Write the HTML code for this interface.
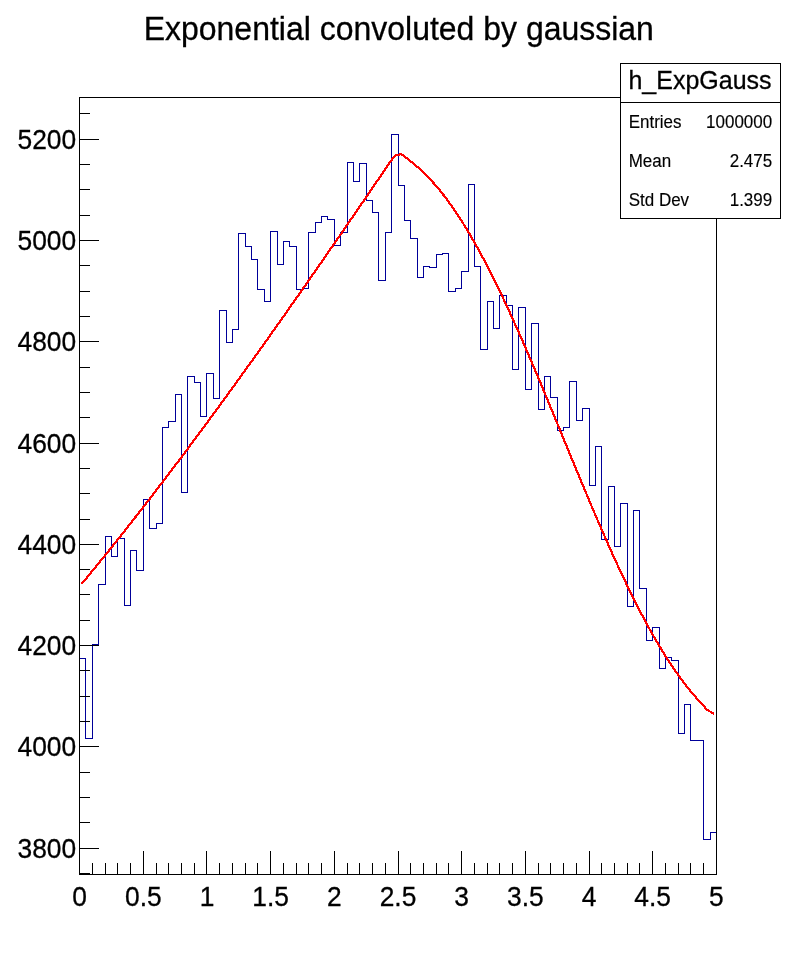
<!DOCTYPE html>
<html><head><meta charset="utf-8"><title>Exponential convoluted by gaussian</title>
<style>
html,body{margin:0;padding:0;background:#fff;}
svg{display:block;font-family:"Liberation Sans",Arial,Helvetica,sans-serif;fill:#000;}
text{stroke:#000;stroke-width:0.3px;}
text.s{stroke-width:0.15px;}
</style></head>
<body>
<svg width="796" height="972" viewBox="0 0 796 972">
<rect width="796" height="972" fill="#fff"/>
<text transform="translate(398.8 39.5) scale(0.95 1)" text-anchor="middle" font-size="33.68">Exponential convoluted by gaussian</text>
<path d="M79.5 874.5V658.5H85.5V738.5H92.5V644.5H98.5V584.5H105.5V536.5H111.5V556.5H117.5V538.5H124.5V605.5H130.5V550.5H136.5V570.5H143.5V499.5H149.5V528.5H156.5V523.5H162.5V427.5H168.5V421.5H175.5V394.5H181.5V492.5H187.5V376.5H194.5V382.5H200.5V416.5H206.5V373.5H213.5V398.5H219.5V310.5H226.5V342.5H232.5V329.5H238.5V233.5H245.5V246.5H251.5V259.5H257.5V289.5H264.5V301.5H270.5V231.5H277.5V264.5H283.5V241.5H289.5V246.5H296.5V289.5H302.5V288.5H308.5V232.5H315.5V222.5H321.5V216.5H327.5V219.5H334.5V245.5H340.5V232.5H347.5V162.5H353.5V181.5H359.5V163.5H366.5V200.5H372.5V212.5H378.5V280.5H385.5V232.5H391.5V134.5H398.5V185.5H404.5V220.5H410.5V238.5H417.5V277.5H423.5V266.5H429.5V267.5H436.5V254.5H442.5V253.5H448.5V291.5H455.5V288.5H461.5V271.5H468.5V184.5H474.5V266.5H480.5V349.5H487.5V301.5H493.5V328.5H499.5V295.5H506.5V305.5H512.5V369.5H518.5V307.5H525.5V389.5H531.5V323.5H538.5V409.5H544.5V376.5H550.5V397.5H557.5V430.5H563.5V427.5H569.5V381.5H576.5V420.5H582.5V408.5H589.5V485.5H595.5V446.5H601.5V539.5H608.5V486.5H614.5V546.5H620.5V503.5H627.5V606.5H633.5V510.5H639.5V588.5H646.5V640.5H652.5V627.5H659.5V668.5H665.5V657.5H671.5V660.5H678.5V733.5H684.5V704.5H690.5V740.5H697.5V740.5H703.5V839.5H710.5V832.5H716.5V874.5" fill="none" stroke="#000099" stroke-width="1" shape-rendering="crispEdges"/>
<path d="M81.8 583.8 L89.1 574.9 L95.5 567.1 L101.9 559.3 L108.3 551.4 L114.6 543.5 L121.0 535.5 L127.4 527.4 L133.7 519.3 L140.1 511.2 L146.5 503.0 L152.8 494.7 L159.2 486.4 L165.6 478.1 L171.9 469.7 L178.3 461.3 L184.7 452.8 L191.0 444.3 L197.4 435.7 L203.8 427.1 L210.1 418.5 L216.5 409.8 L222.9 401.1 L229.2 392.4 L235.6 383.6 L242.0 374.7 L248.3 365.9 L254.7 357.0 L261.1 348.1 L267.5 339.1 L273.8 330.1 L280.2 321.1 L286.6 312.1 L292.9 303.0 L299.3 293.9 L305.7 284.8 L312.0 275.7 L318.4 266.5 L324.8 257.3 L331.1 248.1 L337.5 238.9 L343.9 229.7 L350.2 220.4 L356.6 211.1 L363.0 201.8 L369.3 192.5 L375.7 183.2 L382.1 173.8 L388.4 164.5 L394.8 155.6 L401.2 154.1 L407.5 158.7 L413.9 164.0 L420.3 169.4 L426.7 175.6 L433.0 182.4 L439.4 189.8 L445.8 197.9 L452.1 206.7 L458.5 216.1 L464.9 226.2 L471.2 236.8 L477.6 248.0 L484.0 259.8 L490.3 272.1 L496.7 284.9 L503.1 298.1 L509.4 311.7 L515.8 325.8 L522.2 340.1 L528.5 354.8 L534.9 369.7 L541.3 384.8 L547.6 400.1 L554.0 415.5 L560.4 431.0 L566.7 446.4 L573.1 461.9 L579.5 477.3 L585.9 492.5 L592.2 507.6 L598.6 522.5 L605.0 537.1 L611.3 551.4 L617.7 565.4 L624.1 579.0 L630.4 592.2 L636.8 605.0 L643.2 617.3 L649.5 629.0 L655.9 640.2 L662.3 650.9 L668.6 661.0 L675.0 670.5 L681.4 679.4 L687.7 687.7 L694.1 695.4 L700.5 702.4 L706.8 709.6 L714.2 714.0" fill="none" stroke="#ff0000" stroke-width="2.2" stroke-linejoin="round" shape-rendering="crispEdges"/>
<rect x="79.5" y="97.5" width="637.0" height="777.0" fill="none" stroke="#000" stroke-width="1" shape-rendering="crispEdges"/>
<path d="M79.5 873.5h10M79.5 848.5h19M79.5 822.5h10M79.5 797.5h10M79.5 772.5h10M79.5 746.5h19M79.5 721.5h10M79.5 696.5h10M79.5 670.5h10M79.5 645.5h19M79.5 620.5h10M79.5 594.5h10M79.5 569.5h10M79.5 544.5h19M79.5 519.5h10M79.5 493.5h10M79.5 468.5h10M79.5 443.5h19M79.5 417.5h10M79.5 392.5h10M79.5 367.5h10M79.5 341.5h19M79.5 316.5h10M79.5 291.5h10M79.5 265.5h10M79.5 240.5h19M79.5 215.5h10M79.5 189.5h10M79.5 164.5h10M79.5 139.5h19M79.5 113.5h10M79.5 874.5v-24M92.5 874.5v-12M105.5 874.5v-12M117.5 874.5v-12M130.5 874.5v-12M143.5 874.5v-24M156.5 874.5v-12M168.5 874.5v-12M181.5 874.5v-12M194.5 874.5v-12M206.5 874.5v-24M219.5 874.5v-12M232.5 874.5v-12M245.5 874.5v-12M257.5 874.5v-12M270.5 874.5v-24M283.5 874.5v-12M296.5 874.5v-12M308.5 874.5v-12M321.5 874.5v-12M334.5 874.5v-24M347.5 874.5v-12M359.5 874.5v-12M372.5 874.5v-12M385.5 874.5v-12M398.5 874.5v-24M410.5 874.5v-12M423.5 874.5v-12M436.5 874.5v-12M448.5 874.5v-12M461.5 874.5v-24M474.5 874.5v-12M487.5 874.5v-12M499.5 874.5v-12M512.5 874.5v-12M525.5 874.5v-24M538.5 874.5v-12M550.5 874.5v-12M563.5 874.5v-12M576.5 874.5v-12M589.5 874.5v-24M601.5 874.5v-12M614.5 874.5v-12M627.5 874.5v-12M639.5 874.5v-12M652.5 874.5v-24M665.5 874.5v-12M678.5 874.5v-12M690.5 874.5v-12M703.5 874.5v-12M716.5 874.5v-24" stroke="#000" stroke-width="1" fill="none" shape-rendering="crispEdges"/>
<text transform="translate(76.2 858.2) scale(0.95 1)" text-anchor="end" font-size="27.79">3800</text><text transform="translate(76.2 756.2) scale(0.95 1)" text-anchor="end" font-size="27.79">4000</text><text transform="translate(76.2 655.2) scale(0.95 1)" text-anchor="end" font-size="27.79">4200</text><text transform="translate(76.2 554.2) scale(0.95 1)" text-anchor="end" font-size="27.79">4400</text><text transform="translate(76.2 453.2) scale(0.95 1)" text-anchor="end" font-size="27.79">4600</text><text transform="translate(76.2 351.2) scale(0.95 1)" text-anchor="end" font-size="27.79">4800</text><text transform="translate(76.2 250.2) scale(0.95 1)" text-anchor="end" font-size="27.79">5000</text><text transform="translate(76.2 149.2) scale(0.95 1)" text-anchor="end" font-size="27.79">5200</text>
<text transform="translate(79.6 906.2) scale(0.95 1)" text-anchor="middle" font-size="27.79">0</text><text transform="translate(143.3 906.2) scale(0.95 1)" text-anchor="middle" font-size="27.79">0.5</text><text transform="translate(207.0 906.2) scale(0.95 1)" text-anchor="middle" font-size="27.79">1</text><text transform="translate(270.6 906.2) scale(0.95 1)" text-anchor="middle" font-size="27.79">1.5</text><text transform="translate(334.3 906.2) scale(0.95 1)" text-anchor="middle" font-size="27.79">2</text><text transform="translate(398.0 906.2) scale(0.95 1)" text-anchor="middle" font-size="27.79">2.5</text><text transform="translate(461.7 906.2) scale(0.95 1)" text-anchor="middle" font-size="27.79">3</text><text transform="translate(525.4 906.2) scale(0.95 1)" text-anchor="middle" font-size="27.79">3.5</text><text transform="translate(589.0 906.2) scale(0.95 1)" text-anchor="middle" font-size="27.79">4</text><text transform="translate(652.7 906.2) scale(0.95 1)" text-anchor="middle" font-size="27.79">4.5</text><text transform="translate(716.4 906.2) scale(0.95 1)" text-anchor="middle" font-size="27.79">5</text>
<rect x="620.5" y="63.5" width="160" height="155" fill="#fff" stroke="#000" stroke-width="1" shape-rendering="crispEdges"/>
<path d="M620.5 102.5H780.5" stroke="#000" stroke-width="1" shape-rendering="crispEdges"/>
<text transform="translate(700.0 88.5) scale(0.95 1)" text-anchor="middle" font-size="26.32">h_ExpGauss</text>
<text transform="translate(628.7 128.0) scale(0.95 1)" class="s" font-size="17.89">Entries</text><text transform="translate(772.2 128.0) scale(0.95 1)" text-anchor="end" class="s" font-size="17.89">1000000</text><text transform="translate(628.7 166.9) scale(0.95 1)" class="s" font-size="17.89">Mean</text><text transform="translate(772.2 166.9) scale(0.95 1)" text-anchor="end" class="s" font-size="17.89">2.475</text><text transform="translate(628.7 205.9) scale(0.95 1)" class="s" font-size="17.89">Std Dev</text><text transform="translate(772.2 205.9) scale(0.95 1)" text-anchor="end" class="s" font-size="17.89">1.399</text>
</svg>
</body></html>
